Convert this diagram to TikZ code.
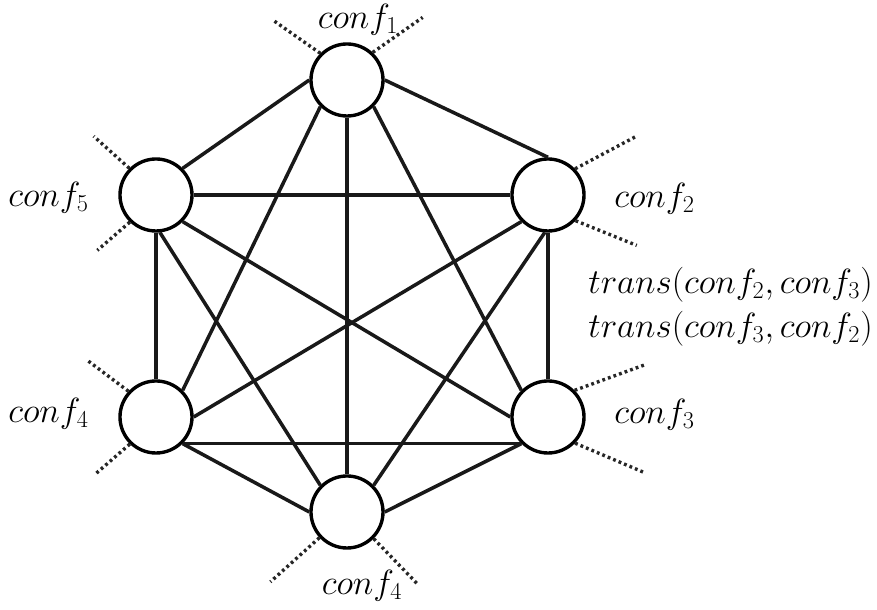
\documentclass[tikz,border=0pt]{standalone}
\usepackage{amsmath}
\usepackage{tikz}
\usetikzlibrary{arrows.meta, positioning}

\begin{document}
\begin{tikzpicture}[
  x=0.025cm, y=0.025cm,
  conf/.style={circle, draw=black, line width=2.4pt, fill=white, minimum size=1.8cm, inner sep=0pt},
  edge/.style={line width=2.5pt, black!90},
  stub/.style={line width=2.4pt, black!85, dash pattern=on 2pt off 2.2pt},
  conflbl/.style={font=\fontsize{23}{27}\selectfont, inner sep=0pt}
]
\useasboundingbox (0,0) rectangle (877,610);

%  : -- Configurations (nodes)  : --
\node[conf] (c1) at (347, 530) {};
\node[conf] (c2) at (548, 415) {};
\node[conf] (c3) at (548, 193) {};
\node[conf] (c4) at (156, 193) {};
\node[conf] (c5) at (156, 415) {};
\node[conf] (c4b) at (347, 98) {};

%  : -- Transitions between every pair  : --
\draw[edge] (c1.west) -- (c5.north east);
\draw[edge] (c1.east) -- (c2.north);
\draw[edge] (c1.south west) -- (c4.north east);
\draw[edge] (c1.south) -- (c4b.north);
\draw[edge] (c1.south east) -- (c3.north west);
\draw[edge] (c5.east) -- (c2.west);
\draw[edge] (c5.south) -- (c4.north);
\draw[edge] (c5.-84) -- (c4b.north west);
\draw[edge] (c5.south east) -- (c3.west);
\draw[edge] (c2.south west) -- (c4.east);
\draw[edge] (c2.-95) -- (c4b.north east);
\draw[edge] (c2.south) -- (c3.north);
\draw[edge] (c4.south east) -- (c3.south west);
\draw[edge] (c4.south east) -- (c4b.west);
\draw[edge] (c3.south west) -- (c4b.east);

%  : -- Dotted stubs (transitions leaving the picture)  : --
\draw[stub] (c1.135) -- ++(145:57);
\draw[stub] (c1.47) -- ++(35:61);
\draw[stub] (c5.135) -- ++(138:48);
\draw[stub] (c5.226) -- ++(221:43);
\draw[stub] (c2.44) -- ++(28:68);
\draw[stub] (c2.-43) -- ++(-22:66);
\draw[stub] (c4.137) -- ++(143:53);
\draw[stub] (c4.226) -- ++(221:47);
\draw[stub] (c3.45) -- ++(20:75);
\draw[stub] (c3.-44) -- ++(-23:76);
\draw[stub] (c4b.223) -- ++(222:66);
\draw[stub] (c4b.-45) -- ++(-46:62);

%  : -- Labels  : --
\node[conflbl] (l1) at (358, 590) {$conf_1$};
\node[conflbl, anchor=west] (l2) at (614, 411) {$conf_2$};
\node[conflbl, anchor=west] (l3) at (614, 195) {$conf_3$};
\node[conflbl, anchor=west] (l4) at (8, 196) {$conf_4$};
\node[conflbl, anchor=west] (l5) at (8, 412) {$conf_5$};
\node[conflbl] (l4b) at (362, 24) {$conf_4$};
\node[conflbl, anchor=east] (t23) at (873, 325) {$trans(conf_2, conf_3)$};
\node[conflbl, anchor=east] (t32) at (873, 281) {$trans(conf_3, conf_2)$};

\end{tikzpicture}
\end{document}
